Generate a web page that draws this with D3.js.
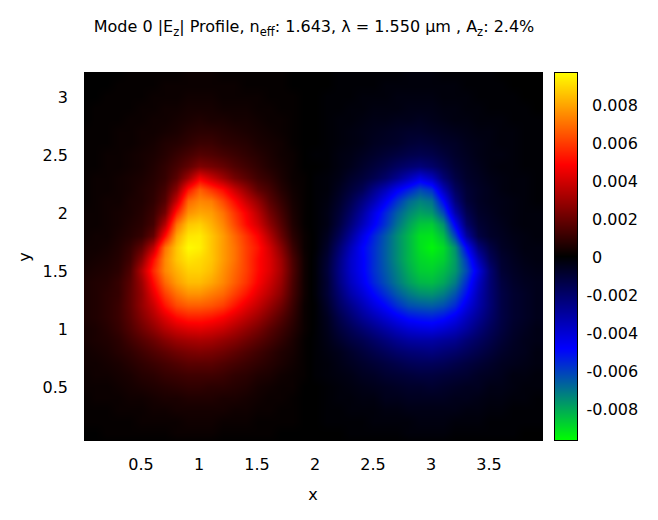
<!DOCTYPE html>
<html><head><meta charset="utf-8">
<script src="https://cdn.jsdelivr.net/npm/d3@7"></script>
<style>html,body{margin:0;padding:0;background:#fff}svg{display:block}text{font-family:"DejaVu Sans",sans-serif;fill:#000}</style>
</head><body><div id="chart"></div>
<script>
// Column positions (x) and row positions (y) of the sampled field
const xValues = d3.range(40).map(i => i / 10);
const yValues = d3.range(33).map(i => (32 - i) / 10);
// Field values, unit 1e-4: left 20 columns (red lobe)
const redLobe = [
[0,0,0,0,1,1,1,1,1,2,2,2,1,1,1,1,1,1,0,0],
[0,0,0,1,1,1,1,2,2,2,2,2,2,2,1,1,1,1,0,0],
[0,0,1,1,1,1,2,2,2,3,3,3,2,2,2,2,1,1,1,0],
[0,1,1,1,1,2,2,3,3,4,4,4,3,3,3,2,2,1,1,0],
[0,1,1,1,2,2,3,3,4,5,6,5,5,4,4,3,2,2,1,0],
[1,1,1,2,2,3,3,4,5,7,8,8,7,6,5,4,3,2,1,0],
[1,1,1,2,2,3,4,6,7,9,11,11,9,8,7,5,4,3,1,0],
[1,1,2,2,3,4,5,7,10,13,16,15,13,11,9,7,5,3,2,0],
[1,1,2,2,3,4,6,9,13,18,24,22,19,15,12,9,6,4,2,0],
[1,2,2,3,4,5,7,10,17,30,46,38,30,22,17,12,9,5,2,1],
[1,2,2,3,4,6,8,13,26,52,66,58,50,38,28,18,13,7,3,1],
[1,2,3,3,5,6,9,16,38,68,74,72,62,50,38,28,17,10,4,1],
[2,2,3,4,5,7,11,22,54,76,80,78,70,58,47,35,22,13,5,1],
[2,2,3,4,6,8,13,34,70,86,88,82,74,62,50,40,27,16,6,1],
[2,3,3,5,7,10,19,50,80,92,93,86,78,68,58,48,34,20,8,2],
[3,3,4,6,10,18,36,70,86,96,94,86,78,70,60,52,40,26,11,2],
[3,4,5,7,12,26,50,74,86,92,90,86,78,70,60,50,42,30,14,3],
[4,5,6,8,15,34,56,74,82,88,88,84,76,68,60,50,42,31,15,3],
[5,6,7,10,17,30,50,68,78,84,84,80,74,66,58,48,39,29,14,3],
[5,6,8,10,18,28,44,60,70,76,76,72,68,60,52,43,35,26,13,3],
[5,6,8,11,18,28,38,52,62,66,66,64,60,52,44,37,29,21,11,2],
[5,6,8,11,17,25,33,42,50,54,54,52,48,42,36,30,23,16,9,2],
[4,5,7,10,15,21,27,34,39,42,43,41,38,33,28,23,17,12,7,2],
[4,5,6,8,12,16,20,25,29,31,32,31,28,25,21,17,13,9,5,1],
[3,4,5,7,9,12,15,18,21,23,24,23,21,18,15,12,9,6,4,1],
[3,3,4,5,7,9,11,13,15,17,17,17,15,13,11,9,7,5,3,1],
[2,3,3,4,5,7,8,10,11,12,12,12,11,9,8,6,5,3,2,1],
[2,2,2,3,4,5,6,7,8,9,9,8,8,7,6,4,3,2,2,0],
[1,2,2,2,3,3,4,5,5,6,6,6,5,5,4,3,2,2,1,0],
[1,1,1,2,2,2,3,3,4,4,4,4,4,3,3,2,2,1,1,0],
[1,1,1,1,1,2,2,2,2,3,3,3,2,2,2,1,1,1,1,0],
[0,0,1,1,1,1,1,1,2,2,2,2,1,1,1,1,1,0,0,0],
[0,0,0,0,0,0,0,0,0,0,0,0,0,0,0,0,0,0,0,0]
];
// Field values, unit -1e-4: right 20 columns (blue lobe)
const blueLobe = [
[0,0,1,1,1,1,1,1,2,2,2,1,1,1,1,1,0,0,0,0],
[0,0,1,1,1,1,2,2,2,2,2,2,2,1,1,1,1,0,0,0],
[0,1,1,1,2,2,2,3,3,3,3,2,2,2,1,1,1,1,0,0],
[0,1,1,2,2,3,3,3,4,4,4,3,3,2,2,1,1,1,1,0],
[0,1,2,2,3,4,4,5,5,6,5,4,3,3,2,2,2,1,1,1],
[0,1,2,3,4,5,6,7,8,8,7,6,5,4,3,3,2,2,1,1],
[0,1,2,3,4,6,7,8,10,11,10,8,7,5,4,3,2,2,1,1],
[1,1,3,4,6,8,10,12,14,15,14,11,8,6,4,3,3,2,1,1],
[0,1,3,5,8,11,14,18,21,23,20,15,10,7,5,3,2,2,1,1],
[1,2,4,8,11,15,20,27,35,43,36,22,13,8,6,4,3,2,2,1],
[1,2,6,11,16,26,35,46,54,62,57,35,18,10,7,5,3,2,2,1],
[1,3,8,15,24,34,46,58,68,73,70,49,24,11,7,5,4,3,2,1],
[1,4,10,19,30,43,55,66,74,79,77,62,33,15,8,6,4,3,2,2],
[1,4,12,23,35,47,58,70,79,86,87,76,47,20,10,7,5,3,2,2],
[1,6,16,29,43,55,65,75,83,91,92,84,61,30,13,8,6,4,3,2],
[1,8,21,35,48,57,66,75,83,91,95,90,76,48,24,13,7,5,3,3],
[2,10,24,38,47,57,66,75,83,89,91,88,78,58,34,17,9,6,4,3],
[2,11,25,38,47,57,65,73,81,87,88,84,77,62,42,22,10,7,5,4],
[2,10,24,36,45,55,63,71,78,83,84,80,72,56,37,22,12,8,6,5],
[2,10,21,32,40,49,57,65,71,75,76,72,64,50,34,22,13,9,7,5],
[1,8,18,26,34,42,49,57,63,65,66,63,56,43,32,22,13,9,7,5],
[1,6,14,21,28,34,40,46,51,53,54,51,45,36,28,20,13,9,7,5],
[1,5,11,16,21,26,31,36,40,42,43,40,36,30,23,17,12,8,6,4],
[1,4,8,12,15,19,23,27,30,31,31,29,27,22,18,14,10,7,5,4],
[1,3,5,8,11,14,17,20,22,23,24,22,20,17,14,11,8,6,5,3],
[1,2,4,6,8,10,12,14,16,17,17,16,14,12,10,8,6,5,4,3],
[1,2,3,4,6,7,9,10,11,12,12,11,10,9,7,6,5,3,3,2],
[0,1,2,3,4,5,6,7,8,8,9,8,7,6,6,4,4,3,2,2],
[0,1,2,2,3,3,5,5,6,6,6,6,5,5,4,3,3,2,2,1],
[0,1,1,2,2,2,3,3,4,4,4,4,4,3,3,2,2,1,1,1],
[0,1,1,1,1,2,2,2,2,3,3,3,2,2,2,1,1,1,1,1],
[0,0,0,1,1,1,1,1,2,2,2,2,1,1,1,1,1,1,0,0],
[0,0,0,0,0,0,0,0,0,0,0,0,0,0,0,0,0,0,0,0]
];
const valueUnit = 1e-4;
const valueMax = 0.00968;
const colorStops = ["#00ff00", "#0000ff", "#000000", "#ff0000", "#ffff00"];
const xTicks = [0.5, 1, 1.5, 2, 2.5, 3, 3.5];
const yTicks = [0.5, 1, 1.5, 2, 2.5, 3];
const cbTicks = [0.008, 0.006, 0.004, 0.002, 0, -0.002, -0.004, -0.006, -0.008];

const W = 658, H = 520;
const box = {l: 84, r: 543, t: 72, b: 441};
const cb = {l: 555, r: 577, t: 73, b: 440};

const field = redLobe.map((row, j) => row.concat(blueLobe[j].map(v => -v)).map(v => v * valueUnit));

const svg = d3.select("#chart").append("svg").attr("width", W).attr("height", H);
const x = d3.scaleLinear().domain([0, 3.957]).range([box.l, box.r]);
const y = d3.scaleLinear().domain([0.034, 3.216]).range([box.b, box.t]);
const color = d3.scaleLinear().domain([-1, -.5, 0, .5, 1].map(t => t * valueMax)).range(colorStops).clamp(true);

// Bilinear sampling of the grid, painted pixel by pixel
const colIdx = d3.scaleLinear().domain([xValues[0], xValues[xValues.length - 1]]).range([0, xValues.length - 1]).clamp(true);
const rowIdx = d3.scaleLinear().domain([yValues[0], yValues[yValues.length - 1]]).range([0, yValues.length - 1]).clamp(true);
function sample(px, py) {
  const u = colIdx(x.invert(px)), v = rowIdx(y.invert(py));
  const i = Math.min(Math.floor(u), xValues.length - 2), j = Math.min(Math.floor(v), yValues.length - 2);
  const a = u - i, b = v - j;
  return (1 - b) * ((1 - a) * field[j][i] + a * field[j][i + 1]) + b * ((1 - a) * field[j + 1][i] + a * field[j + 1][i + 1]);
}
const cw = box.r - box.l, ch = box.b - box.t;
const canvas = document.createElement("canvas");
canvas.width = cw; canvas.height = ch;
const ctx = canvas.getContext("2d");
const img = ctx.createImageData(cw, ch);
for (let py = 0; py < ch; py++) for (let px = 0; px < cw; px++) {
  const c = d3.rgb(color(sample(box.l + px + .5, box.t + py + .5)));
  const k = 4 * (py * cw + px);
  img.data[k] = c.r; img.data[k + 1] = c.g; img.data[k + 2] = c.b; img.data[k + 3] = 255;
}
ctx.putImageData(img, 0, 0);
svg.append("image").attr("x", box.l).attr("y", box.t).attr("width", cw).attr("height", ch)
  .attr("href", canvas.toDataURL());

// Axes
const fs = 16;
const gx = svg.append("g").attr("transform", `translate(-1.5,${box.b})`)
  .call(d3.axisBottom(x).tickValues(xTicks).tickFormat(String).tickSize(0).tickPadding(18));
const gy = svg.append("g").attr("transform", `translate(${box.l},0.5)`)
  .call(d3.axisLeft(y).tickValues(yTicks).tickFormat(String).tickSize(0).tickPadding(16));
[gx, gy].forEach(g => { g.select(".domain").remove(); g.selectAll("text").attr("font-size", fs).attr("font-family", null); g.attr("font-family", null); });

svg.append("text").attr("x", 313).attr("y", 500).attr("text-anchor", "middle").attr("font-size", fs).text("x");
svg.append("text").attr("transform", "translate(30,257) rotate(-90)").attr("text-anchor", "middle").attr("font-size", fs).text("y");

// Colorbar
const cbY = d3.scaleLinear().domain([valueMax, -valueMax]).range([72.5, 440.5]);
svg.append("g").selectAll("rect").data(d3.range(cb.t, cb.b)).join("rect")
  .attr("x", cb.l).attr("y", d => d).attr("width", cb.r - cb.l).attr("height", 1)
  .attr("fill", d => color(cbY.invert(d + .5)));
svg.append("rect").attr("x", cb.l - .5).attr("y", 72.5).attr("width", cb.r - cb.l + 1).attr("height", 368)
  .attr("fill", "none").attr("stroke", "#000");
const gc = svg.append("g").attr("transform", `translate(${cb.r},1)`)
  .call(d3.axisRight(cbY).tickValues(cbTicks).tickFormat(String).tickSize(0).tickPadding(15));
gc.select(".domain").remove();
gc.attr("font-family", null).selectAll("text").attr("font-size", fs).attr("font-family", null)
  .attr("dx", d => d < 0 ? -5.4 : 0);

// Title with subscripts
const title = svg.append("text").attr("x", 314).attr("y", 32).attr("text-anchor", "middle").attr("font-size", fs);
const parts = [["Mode 0 |E", 0], ["z", 1], ["| Profile, n", 0], ["eff", 1], [": 1.643, λ = 1.550 µm , A", 0], ["z", 1], [": 2.4%", 0]];
let prev = 0;
parts.forEach(([t, sub]) => {
  const dy = sub ? 4 : (prev ? -4 : 0);
  title.append("tspan").attr("dy", dy).attr("font-size", sub ? 11.5 : fs).text(t);
  prev = sub;
});
</script></body></html>
